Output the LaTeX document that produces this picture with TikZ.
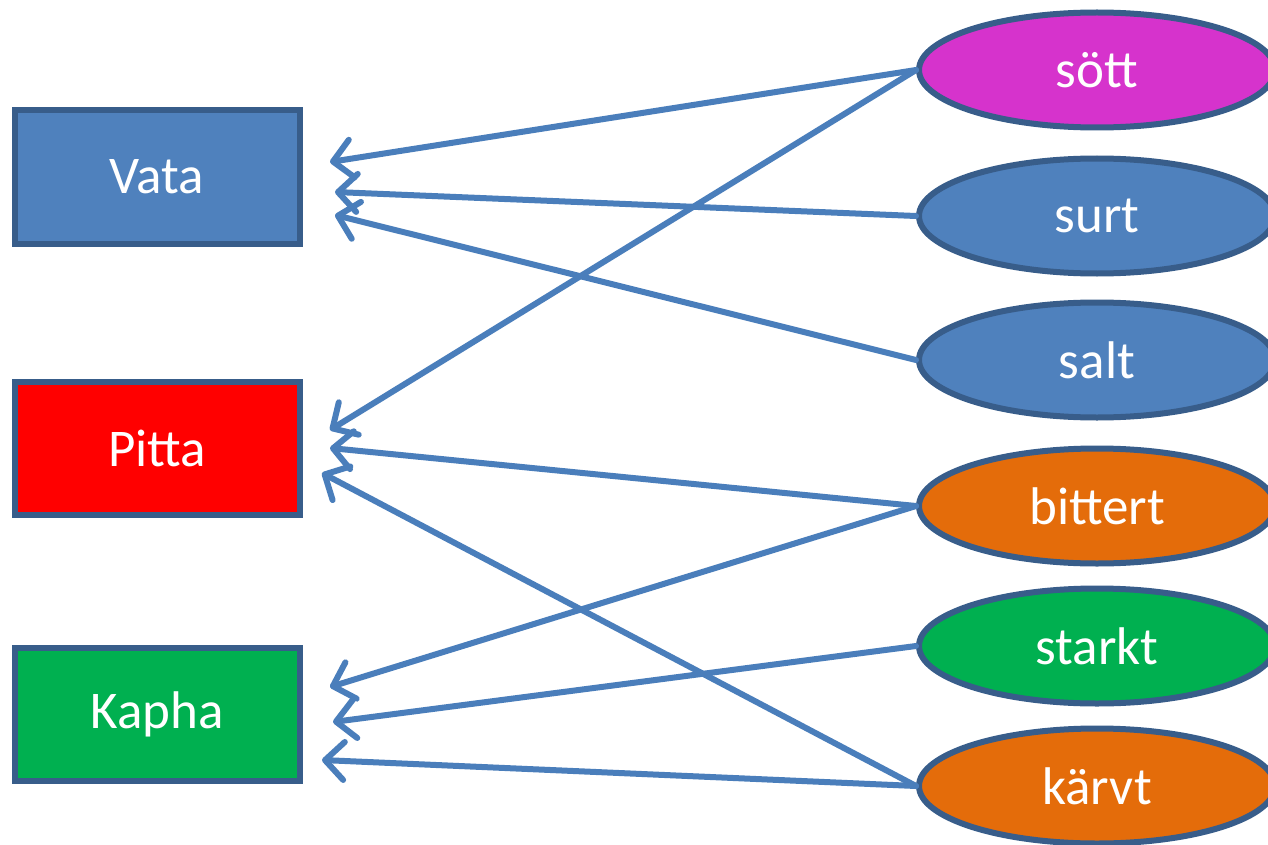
\documentclass[tikz,border=0pt]{standalone}
\usepackage{fontspec}
\setmainfont{Carlito}
\usetikzlibrary{arrows.meta,shapes.geometric}
\definecolor{outl}{HTML}{385D8A}
\definecolor{arr}{HTML}{4A7EBB}
\definecolor{cblue}{HTML}{4F81BD}
\definecolor{cred}{HTML}{FF0000}
\definecolor{cgreen}{HTML}{00B050}
\definecolor{corange}{HTML}{E46C0A}
\definecolor{cmag}{HTML}{D633CC}
\tikzset{
  dosha/.style={draw=outl, line width=6pt, minimum width=285pt, minimum height=133pt,
    inner sep=0pt, text=white, font=\fontsize{53}{60}\selectfont},
  taste/.style={ellipse, draw=outl, line width=6pt, minimum width=356pt, minimum height=115pt,
    inner sep=0pt, text=white, font=\fontsize{53}{60}\selectfont},
  conn/.style={draw=arr, line width=6pt, line cap=round,
    -{Straight Barb[length=19pt,width=38pt,round]}}
}
\begin{document}
\begin{tikzpicture}[x=1pt,y=-1pt]
\useasboundingbox (0,0) rectangle (1268,845);
\fill[white] (0,0) rectangle (1268,845);
% boxes
\node[dosha, fill=cblue]   (vata)  at (157,177) {Vata};
\node[dosha, fill=cred]    (pitta) at (157,448) {Pitta};
\node[dosha, fill=cgreen]  (kapha) at (157,714) {Kapha};
% ellipses
\node[taste, fill=cmag]    (sott)  at (1097,70)  {sött};
\node[taste, fill=cblue]   (surt)  at (1097,216) {surt};
\node[taste, fill=cblue]   (salt)  at (1097,360) {salt};
\node[taste, fill=corange] (bitt)  at (1097,506) {bittert};
\node[taste, fill=cgreen]  (stark) at (1097,646) {starkt};
\node[taste, fill=corange] (karvt) at (1097,786) {kärvt};
% arrow tips
\coordinate (v1) at (330,162);
\coordinate (v2) at (335,192);
\coordinate (v3) at (335,215);
\coordinate (p1) at (330,430);
\coordinate (p2) at (330,448);
\coordinate (p3) at (322,473);
\coordinate (k1) at (330,687);
\coordinate (k2) at (333,722);
\coordinate (k3) at (322,760);
% connectors
\draw[conn] (sott.west)  -- (v1);
\draw[conn] (surt.west)  -- (v2);
\draw[conn] (salt.west)  -- (v3);
\draw[conn] (sott.west)  -- (p1);
\draw[conn] (bitt.west)  -- (p2);
\draw[conn] (karvt.west) -- (p3);
\draw[conn] (bitt.west)  -- (k1);
\draw[conn] (stark.west) -- (k2);
\draw[conn] (karvt.west) -- (k3);
\end{tikzpicture}
\end{document}
